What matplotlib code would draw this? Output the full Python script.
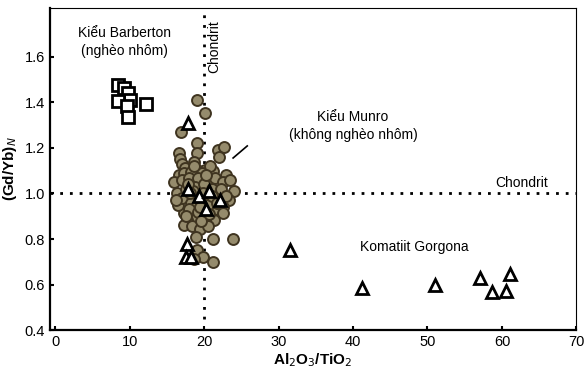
import matplotlib
matplotlib.use("Agg")
import matplotlib.pyplot as plt

plt.rcParams['font.family'] = ['Liberation Sans', 'DejaVu Sans']

# Barberton type (squares)
barb_x = [8.4, 9.2, 9.8, 10.0, 8.5, 9.7, 12.2, 9.8]
barb_y = [1.477, 1.464, 1.442, 1.41, 1.405, 1.385, 1.393, 1.336]

# Munro type (circles)
munro_x = [19.0, 20.1, 16.9, 19.0, 19.1, 21.9, 22.7, 22.0, 16.6, 16.8, 17.0,
           18.6, 17.5, 19.0, 20.1, 21.2, 23.0, 16.6, 17.3, 18.2, 19.7,
           16.0, 17.0, 18.0, 19.2, 20.5, 21.5, 22.6, 23.5, 16.3, 17.6, 18.8,
           20.0, 21.0, 22.3, 24.0, 23.3, 22.5, 21.5, 22.6, 21.3, 20.1, 18.8,
           17.7, 17.3, 16.5, 17.1, 18.3, 19.5, 20.5, 18.0, 19.2, 20.6, 17.3,
           18.4, 19.5, 20.5, 21.2, 23.9, 19.0, 19.9, 21.2, 18.7, 16.2, 22.9,
           18.5, 19.8, 21.0, 17.9, 20.8, 18.1, 19.4, 20.3, 17.6, 18.9, 21.8,
           19.6, 18.6]
munro_y = [1.41, 1.355, 1.27, 1.22, 1.18, 1.19, 1.205, 1.16, 1.18, 1.15, 1.13,
           1.14, 1.11, 1.105, 1.105, 1.10, 1.08, 1.08, 1.09, 1.095, 1.09,
           1.05, 1.06, 1.07, 1.07, 1.06, 1.07, 1.05, 1.06, 1.00, 1.02, 1.03,
           1.04, 1.02, 1.02, 1.01, 0.97, 0.94, 0.93, 0.915, 0.884, 0.884, 0.89,
           0.884, 0.915, 0.95, 0.98, 0.96, 0.97, 0.95, 0.93, 0.92, 0.91, 0.86,
           0.855, 0.845, 0.855, 0.80, 0.80, 0.75, 0.72, 0.70, 0.71, 0.97, 0.99,
           1.01, 1.00, 0.99, 1.04, 1.12, 1.00, 0.94, 1.08, 0.90, 0.81, 0.96,
           0.88, 1.12]

# Gorgona komatiites (triangles)
gorg_x = [17.9, 17.8, 19.3, 20.6, 20.3, 22.1, 17.7, 17.6, 18.3,
          31.6, 41.2, 51.0, 57.0, 58.7, 60.5, 61.1]
gorg_y = [1.31, 1.02, 0.99, 1.01, 0.93, 0.97, 0.78, 0.72, 0.72,
          0.75, 0.585, 0.598, 0.63, 0.565, 0.57, 0.645]

fig = plt.figure(figsize=(5.87, 3.82), dpi=100)
ax = fig.add_axes([0.085, 0.136, 0.897, 0.843])

ax.plot([20, 20], [0.45, 1.815], color='black', lw=2, ls=(0, (1, 2.5)), zorder=1)
ax.axhline(1.0, color='black', lw=2, ls=(0, (1, 2.5)), zorder=1)

ax.scatter(munro_x, munro_y, s=62, facecolor='#958b6c', edgecolor='#3f3420',
           linewidth=1.4, zorder=2)
ax.plot(gorg_x, gorg_y, ls='none', marker='^', ms=8, mfc='white', mec='black',
        mew=2, zorder=3)
ax.plot(barb_x, barb_y, ls='none', marker='s', ms=9, mfc='white', mec='black',
        mew=2, zorder=3)

ax.text(9.3, 1.666, 'Kiểu Barberton\n(nghèo nhôm)', ha='center', va='center',
        fontsize=10, linespacing=1.3)
ax.text(21.4, 1.645, 'Chondrit', rotation=90, ha='center', va='center', fontsize=10)
ax.text(40.0, 1.297, 'Kiểu Munro\n(không nghèo nhôm)', ha='center', va='center',
        fontsize=10, linespacing=1.3)
ax.plot([23.9, 25.8], [1.156, 1.209], color='black', lw=1.2)
ax.text(62.7, 1.046, 'Chondrit', ha='center', va='center', fontsize=10)
ax.text(48.2, 0.765, 'Komatiit Gorgona', ha='center', va='center', fontsize=10)

ax.set_xlim(-0.7, 70)
ax.set_ylim(0.4, 1.815)
ax.set_xticks(range(0, 71, 10))
ax.set_yticks([0.4, 0.6, 0.8, 1.0, 1.2, 1.4, 1.6])
ax.set_yticklabels(['0.4', '0.6', '0.8', '1.0', '1.2', '1.4', '1.6'])
ax.tick_params(direction='in', length=3, width=1.5, labelsize=10.5)

for side in ['left', 'bottom']:
    ax.spines[side].set_linewidth(1.6)
for side in ['top', 'right']:
    ax.spines[side].set_linewidth(0.8)

ax.set_xlabel('Al$_2$O$_3$/TiO$_2$', fontsize=11, fontweight='bold', labelpad=2)
ax.set_ylabel('(Gd/Yb)$_N$', fontsize=11, fontweight='bold', labelpad=4)

fig.savefig('out.png', dpi=100)
